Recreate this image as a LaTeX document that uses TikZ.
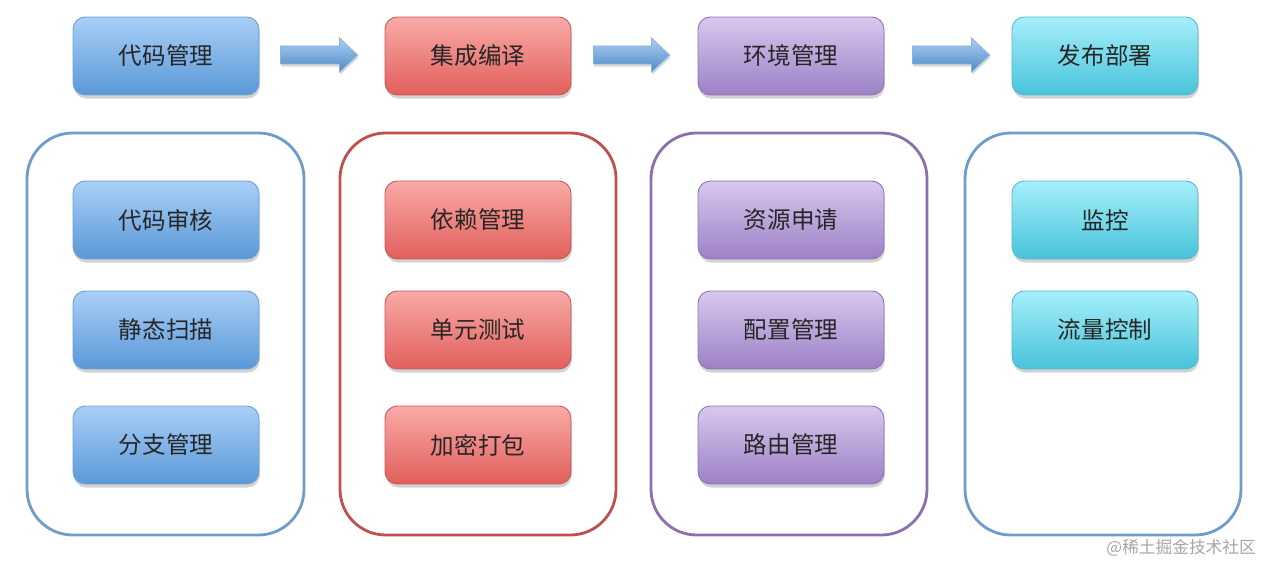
\documentclass[tikz,border=0pt]{standalone}
\usepackage{fontspec}
\newfontfamily\cjk{Noto Sans CJK SC}
\usetikzlibrary{shadows,calc}
\definecolor{bTop}{HTML}{A9CFF6}\definecolor{bBot}{HTML}{5A98D8}\definecolor{bLine}{HTML}{6C9FD3}
\definecolor{rTop}{HTML}{F9AAA8}\definecolor{rBot}{HTML}{E15F5B}\definecolor{rLine}{HTML}{C65A57}
\definecolor{pTop}{HTML}{D9C8EE}\definecolor{pBot}{HTML}{9C80C6}\definecolor{pLine}{HTML}{8E74B4}
\definecolor{cTop}{HTML}{A6EFFA}\definecolor{cBot}{HTML}{48C3DA}\definecolor{cLine}{HTML}{55B8CF}
\definecolor{frameB}{HTML}{6E9CCB}\definecolor{frameR}{HTML}{C0504D}\definecolor{frameP}{HTML}{8A70AE}
\tikzset{
  box/.style={rounded corners=7pt, minimum width=3.72cm, minimum height=1.56cm, inner sep=0pt,
    font=\cjk\fontsize{13.4}{16}\selectfont, text=black!85,
    drop shadow={shadow xshift=0.5pt, shadow yshift=-2pt, opacity=0.35}},
  bbox/.style={box, top color=bTop, bottom color=bBot, draw=bLine, line width=0.5pt},
  rbox/.style={box, top color=rTop, bottom color=rBot, draw=rLine, line width=0.5pt},
  pbox/.style={box, top color=pTop, bottom color=pBot, draw=pLine, line width=0.5pt},
  cbox/.style={box, top color=cTop, bottom color=cBot, draw=cLine, line width=0.5pt},
  frame/.style={rounded corners=26pt, line width=1.6pt, fill=white},
  flowarrow/.style={top color=bTop, bottom color=bBot!90!black, draw=bLine!80, line width=0.4pt,
    drop shadow={shadow xshift=0.5pt, shadow yshift=-1.5pt, opacity=0.3}},
}
\begin{document}
\begin{tikzpicture}[x=0.02cm,y=-0.02cm]
\useasboundingbox (0,0) rectangle (1268,564);
% frames
\draw[frame, draw=frameB] (27,133) rectangle (304,535);
\draw[frame, draw=frameR] (340,133) rectangle (616,535);
\draw[frame, draw=frameP] (651,133) rectangle (927,535);
\draw[frame, draw=frameB] (965,133) rectangle (1241,535);
% top row
\node[bbox] (t1) at (166,56) {代码管理};
\node[rbox] (t2) at (478,56) {集成编译};
\node[pbox] (t3) at (791,56) {环境管理};
\node[cbox] (t4) at (1105,56) {发布部署};
% arrows
\foreach \a/\b/\sa/\eb in {t1/t2/21/27, t2/t3/22/28, t3/t4/28/22}{
  \path ($(\a.east)+(\sa,-1)$) coordinate (s) ($(\b.west)+(-\eb,-1)$) coordinate (e);
  \path[flowarrow] ($(s)+(0,-9)$) -- ($(e)+(-18,-9)$) -- ($(e)+(-18,-17)$) -- (e)
     -- ($(e)+(-18,17)$) -- ($(e)+(-18,9)$) -- ($(s)+(0,9)$) -- cycle;
}
% column 1
\node[bbox] (a1) at (166,220) {代码审核};
\node[bbox] (a2) at (166,330) {静态扫描};
\node[bbox] (a3) at (166,445) {分支管理};
% column 2
\node[rbox] (b1) at (478,220) {依赖管理};
\node[rbox] (b2) at (478,330) {单元测试};
\node[rbox] (b3) at (478,445) {加密打包};
% column 3
\node[pbox] (c1) at (791,220) {资源申请};
\node[pbox] (c2) at (791,330) {配置管理};
\node[pbox] (c3) at (791,445) {路由管理};
% column 4
\node[cbox] (d1) at (1105,220) {监控};
\node[cbox] (d2) at (1105,330) {流量控制};
% watermark
\node[font=\cjk\fontsize{9.5}{11}\selectfont, text=black!35, anchor=east] (wm) at (1262,548) {@稀土掘金技术社区};
\end{tikzpicture}
\end{document}
